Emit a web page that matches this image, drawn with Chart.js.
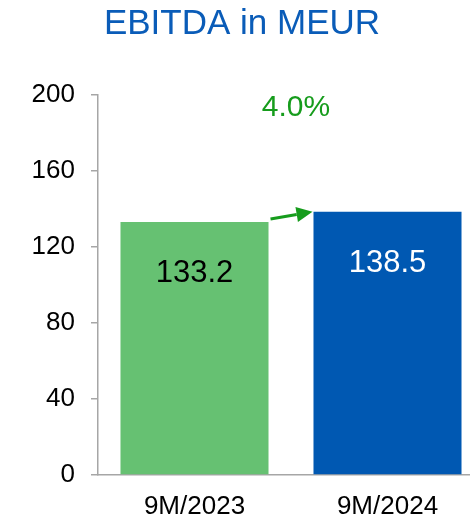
<!DOCTYPE html>
<html>
<head>
<meta charset="utf-8">
<title>EBITDA in MEUR</title>
<script src="https://cdn.jsdelivr.net/npm/chart.js@4/dist/chart.umd.min.js"></script>
<style>
    html, body { margin: 0; padding: 0; background: #ffffff; overflow: hidden; }
    #wrap { position: relative; width: 490px; height: 520px; }
</style>
</head>
<body>
<div id="wrap"><canvas id="ebitdaChart"></canvas></div>
<script>
'use strict';

// ── Data ────────────────────────────────────────────────────────────────────
var categories = ['9M/2023', '9M/2024'];
var ebitda     = [133.2, 138.5];
var yMin = 0, yMax = 200, yStep = 40;

// ── Colours ─────────────────────────────────────────────────────────────────
var COLORS = {
    title:  '#0a5cb8',
    green:  '#66c172',
    blue:   '#0058b2',
    growth: '#169c1c',
    axis:   '#a6a6a6',
    text:   '#000000'
};
var barColors   = [COLORS.green, COLORS.blue];
var labelColors = ['#000000', '#ffffff'];

var FONT = "'Liberation Sans', Arial, sans-serif";

// growth between the two periods, e.g. "4.0%"
var growth = ((ebitda[1] / ebitda[0] - 1) * 100).toFixed(1) + '%';

// ── Plugin: value labels inside bars + growth arrow ─────────────────────────
var annotations = {
    id: 'annotations',
    afterDatasetsDraw: function (chart) {
        var ctx  = chart.ctx;
        var bars = chart.getDatasetMeta(0).data;
        var area = chart.chartArea;

        ctx.save();
        ctx.font = '31px ' + FONT;
        ctx.textAlign = 'center';
        ctx.textBaseline = 'middle';
        bars.forEach(function (bar, i) {
            ctx.fillStyle = labelColors[i];
            ctx.fillText(ebitda[i].toFixed(1), bar.x, bar.y + 52);
        });

        // arrow from top of first bar to top of second
        var b0 = bars[0], b1 = bars[1];
        var x0 = b0.x + b0.width / 2 + 2, y0 = b0.y - 3;
        var x1 = b1.x - b1.width / 2 - 1, y1 = b1.y;
        var ang = Math.atan2(y1 - y0, x1 - x0);
        var headLen = 16, headW = 7.5;
        var bx = x1 - headLen * Math.cos(ang), by = y1 - headLen * Math.sin(ang);

        ctx.strokeStyle = COLORS.growth;
        ctx.fillStyle = COLORS.growth;
        ctx.lineWidth = 3;
        ctx.beginPath();
        ctx.moveTo(x0, y0);
        ctx.lineTo(bx, by);
        ctx.stroke();
        ctx.beginPath();
        ctx.moveTo(x1, y1);
        ctx.lineTo(bx + headW * Math.sin(ang), by - headW * Math.cos(ang));
        ctx.lineTo(bx - headW * Math.sin(ang), by + headW * Math.cos(ang));
        ctx.closePath();
        ctx.fill();

        // growth percentage
        ctx.font = '30px ' + FONT;
        ctx.fillText(growth, (b0.x + b1.x) / 2 + 5, area.top + 13);
        ctx.restore();
    }
};

// ── Chart ───────────────────────────────────────────────────────────────────
new Chart(document.getElementById('ebitdaChart').getContext('2d'), {
    type: 'bar',
    data: {
        labels: categories,
        datasets: [{
            data: ebitda,
            backgroundColor: barColors,
            borderWidth: 0,
            barPercentage: 0.767,
            categoryPercentage: 1.0
        }]
    },
    options: {
        responsive: true,
        maintainAspectRatio: false,
        animation: false,
        layout: { padding: { top: 0, right: 6, bottom: 0, left: 0 } },
        plugins: {
            legend: { display: false },
            tooltip: { enabled: false },
            title: {
                display: true,
                text: 'EBITDA in MEUR',
                color: COLORS.title,
                font: { family: FONT, size: 35, weight: 'normal' },
                padding: { top: 3, bottom: 50 }
            }
        },
        scales: {
            x: {
                grid: { display: false },
                border: { display: true, color: COLORS.axis, width: 1.5 },
                ticks: {
                    color: COLORS.text,
                    font: { family: FONT, size: 26 },
                    padding: 8,
                    maxRotation: 0
                },
                afterFit: function (scale) { scale.height = 45; }
            },
            y: {
                min: yMin,
                max: yMax,
                grid: {
                    drawOnChartArea: false,
                    drawTicks: true,
                    tickLength: 7,
                    color: COLORS.axis,
                    lineWidth: 1.5
                },
                border: { display: true, color: COLORS.axis, width: 1.5 },
                ticks: {
                    stepSize: yStep,
                    color: COLORS.text,
                    font: { family: FONT, size: 26 },
                    padding: 16
                },
                afterFit: function (scale) { scale.width = 98; }
            }
        }
    },
    plugins: [annotations]
});
</script>
</body>
</html>
